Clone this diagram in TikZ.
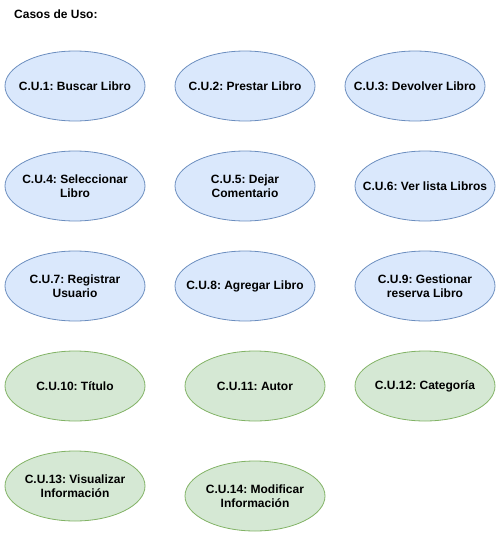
\documentclass[tikz,border=0pt]{standalone}
\usepackage{fontspec}
\setmainfont{Liberation Sans}
\usepackage{tikz}
\usetikzlibrary{shapes.geometric}

\definecolor{azulfondo}{HTML}{DAE8FC}
\definecolor{azulborde}{HTML}{6C8EBF}
\definecolor{verdefondo}{HTML}{D5E8D4}
\definecolor{verdeborde}{HTML}{82B366}

\begin{document}
\frenchspacing
\begin{tikzpicture}[
  x=1pt, y=-1pt,
  every node/.style={font=\fontsize{12}{14}\selectfont\bfseries, align=center},
  caso/.style={ellipse, draw, line width=0.8pt, minimum width=140pt,
    minimum height=70pt, inner sep=-20pt}, % casos de uso, tamano fijo
  casoazul/.style={caso, fill=azulfondo, draw=azulborde},
  casoverde/.style={caso, fill=verdefondo, draw=verdeborde}
]
  \useasboundingbox (0,0) rectangle (496,533);
  \node[anchor=west, inner sep=0pt] (titulo) at (14,14) {Casos de Uso:};

  % fila 1
  \node[casoazul] (cu1) at (75,86) {C.U.1: Buscar Libro};
  \node[casoazul] (cu2) at (245,86) {C.U.2: Prestar Libro};
  \node[casoazul] (cu3) at (415,86) {C.U.3: Devolver Libro};
  % fila 2
  \node[casoazul] (cu4) at (75,186) {C.U.4: Seleccionar\\Libro};
  \node[casoazul] (cu5) at (245,186) {C.U.5: Dejar\\Comentario};
  \node[casoazul] (cu6) at (425,186) {C.U.6: Ver lista Libros};
  % fila 3
  \node[casoazul] (cu7) at (75,286) {C.U.7: Registrar\\Usuario};
  \node[casoazul] (cu8) at (245,286) {C.U.8: Agregar Libro};
  \node[casoazul] (cu9) at (425,286) {C.U.9: Gestionar\\reserva Libro};
  % fila 4
  \node[casoverde] (cu10) at (75,386) {C.U.10: Título};
  \node[casoverde] (cu11) at (255,386) {C.U.11: Autor};
  \node[casoverde] (cu12) at (425,386) {C.U.12: Categoría};
  % fila 5
  \node[casoverde] (cu13) at (75,486) {C.U.13: Visualizar\\Información};
  \node[casoverde] (cu14) at (255,496) {C.U.14: Modificar\\Información};
\end{tikzpicture}
\end{document}
